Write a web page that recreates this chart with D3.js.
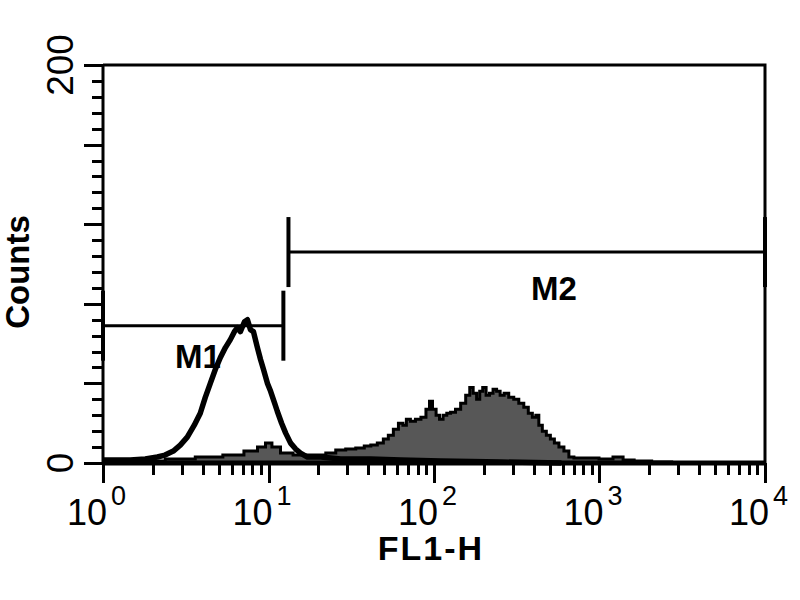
<!DOCTYPE html>
<html>
<head>
<meta charset="utf-8">
<script src="https://cdn.jsdelivr.net/npm/d3@7"></script>
<style>
  body { margin: 0; background: #fff; }
  svg { display: block; }
  text { font-family: "Liberation Sans", Arial, sans-serif; fill: #000; }
</style>
</head>
<body>
<div id="chart"></div>
<script>
// control (open histogram), FL1-H channel value vs counts
const controlFl1 = [1.00, 1.46, 1.80, 2.13, 2.37, 2.66, 2.93, 3.23, 3.56, 3.87, 4.15, 4.45, 4.77, 5.12, 5.49, 5.88, 6.22, 6.49, 6.76, 7.16, 7.46, 7.78, 8.11, 8.57, 8.95, 9.33, 9.86, 10.3, 10.9, 11.3, 12.0, 12.7, 13.6, 14.6, 15.6, 17.2, 20.7, 27.3, 41.5, 63.1, 110, 255, 589];
const controlCounts = [1.5, 1.5, 2, 3, 4, 6, 9, 13, 19, 25, 33, 40, 47, 53, 58, 62, 66, 68, 66, 71, 72, 67, 66, 58, 52, 47, 40, 36, 30, 26, 20, 15, 10, 7, 5, 3, 3, 2, 2, 1.5, 1, 0.5, 0];

// stained sample (filled histogram)
const sampleFl1 = [1.00, 1.93, 2.93, 4.45, 6.31, 8.00, 9.20, 10.0, 11.0, 12.7, 15.6, 20.7, 23.8, 27.3, 31.4, 36.1, 39.8, 43.3, 47.7, 51.2, 54.8, 58.9, 63.1, 66.7, 69.5, 74.6, 80.0, 86.9, 92.0, 95.9, 100, 106, 110, 117, 122, 130, 140, 150, 161, 168, 177, 185, 193, 201, 212, 221, 234, 244, 258, 273, 293, 314, 337, 361, 382, 404, 421, 439, 464, 491, 519, 549, 589, 631, 676, 726, 895, 1102, 1321, 1459, 1798, 2375, 3139];
const sampleCounts = [1, 1, 2, 3, 4, 6, 8, 10, 8, 5, 4, 4, 5, 6.5, 7, 7.5, 8.5, 9, 10, 12, 14, 17, 20, 19, 22, 21, 22, 23, 27, 31, 27, 24, 22, 24, 25, 25.5, 27, 30, 34, 38, 35, 32, 36, 38, 34, 35, 37, 36, 34, 35, 33, 32, 30, 28, 25, 23, 24, 19, 16, 14, 12, 10, 8, 6, 3, 2.5, 2.5, 2, 3, 1.5, 1, 0.5, 0];

// markers
const markerNames = ['M1', 'M2'];
const markerStart = [1, 13.2];
const markerEnd = [12.3, 10000];
const markerLevel = [69, 106];

const xExponents = [0, 1, 2, 3, 4];
const yTickLabels = [0, 200];
const yMajorTicks = [0, 40, 80, 120, 160, 200];

const W = 800, H = 600;
const plotLeft = 103, plotRight = 765, plotTop = 65, plotBottom = 463;

const svg = d3.select('#chart').append('svg').attr('width', W).attr('height', H);
svg.append('rect').attr('width', W).attr('height', H).attr('fill', '#fff');

const x = d3.scaleLog().domain([1, 1e4]).range([plotLeft, plotRight]);
const y = d3.scaleLinear().domain([0, 200]).range([plotBottom, plotTop]);

// filled sample histogram
const sample = sampleFl1.map((v, i) => ({ x: v, y: sampleCounts[i] }));
const area = d3.area().x(d => x(d.x)).y0(y(0)).y1(d => y(d.y)).curve(d3.curveStep);
const outline = d3.line().x(d => x(d.x)).y(d => y(d.y)).curve(d3.curveStep);
svg.append('path').datum(sample).attr('d', area).attr('fill', '#575757');
svg.append('path').datum(sample).attr('d', outline)
  .attr('fill', 'none').attr('stroke', '#000').attr('stroke-width', 3);

// open control histogram
const control = controlFl1.map((v, i) => ({ x: v, y: controlCounts[i] }));
svg.append('path').datum(control)
  .attr('d', d3.line().x(d => x(d.x)).y(d => y(d.y)))
  .attr('fill', 'none').attr('stroke', '#000').attr('stroke-width', 5.5)
  .attr('stroke-linejoin', 'round');

// frame
svg.append('path')
  .attr('d', `M${plotLeft},${plotTop}H${plotRight}V${plotBottom}`)
  .attr('fill', 'none').attr('stroke', '#000').attr('stroke-width', 3);
svg.append('line').attr('x1', plotLeft).attr('x2', plotLeft).attr('y1', plotTop - 1).attr('y2', plotBottom + 2)
  .attr('stroke', '#000').attr('stroke-width', 3);
svg.append('line').attr('x1', plotLeft).attr('x2', plotRight + 1).attr('y1', plotBottom).attr('y2', plotBottom)
  .attr('stroke', '#000').attr('stroke-width', 5);

// x axis ticks
const xTicks = x.ticks();
svg.append('g').attr('shape-rendering', 'crispEdges')
  .selectAll('line').data(xTicks).enter().append('line')
  .attr('x1', d => Math.round(x(d))).attr('x2', d => Math.round(x(d)))
  .attr('y1', plotBottom)
  .attr('y2', d => Number.isInteger(Math.log10(d)) ? plotBottom + 20 : plotBottom + 12)
  .attr('stroke', '#000').attr('stroke-width', 3);

const xLab = svg.append('g').selectAll('g').data(xExponents).enter().append('g')
  .attr('transform', e => `translate(${x(Math.pow(10, e))},0)`);
xLab.append('text').attr('x', 4).attr('y', 525).attr('text-anchor', 'end')
  .style('font-size', '36px').text('10');
xLab.append('text').attr('x', 8).attr('y', 505)
  .style('font-size', '27px').text(e => e);

// y axis ticks
const yTicks = d3.range(0, 201, 8);
svg.append('g').attr('shape-rendering', 'crispEdges')
  .selectAll('line').data(yTicks).enter().append('line')
  .attr('x1', plotLeft).attr('y1', d => Math.round(y(d))).attr('y2', d => Math.round(y(d)))
  .attr('x2', d => yMajorTicks.includes(d) ? plotLeft - 19 : plotLeft - 11)
  .attr('stroke', '#000').attr('stroke-width', 3);

svg.append('g').selectAll('text').data(yTickLabels).enter().append('text')
  .attr('transform', d => `translate(73,${y(d)}) rotate(-90)`)
  .attr('text-anchor', 'middle')
  .style('font-size', '37px').text(d => d);

// axis titles
svg.append('text').attr('transform', 'translate(29,272) rotate(-90)')
  .attr('text-anchor', 'middle').style('font-size', '33px').style('font-weight', 'bold')
  .text('Counts');
svg.append('text').attr('x', 431).attr('y', 560)
  .attr('text-anchor', 'middle').style('font-size', '34px').style('font-weight', 'bold')
  .style('letter-spacing', '2px').text('FL1-H');

// markers
const markerLabelPos = [[175, 368], [531, 300]];
markerNames.forEach((name, i) => {
  const g = svg.append('g');
  const x0 = x(markerStart[i]), x1 = x(markerEnd[i]), yy = y(markerLevel[i]);
  g.append('line').attr('x1', x0).attr('x2', x1).attr('y1', yy).attr('y2', yy)
    .attr('stroke', '#000').attr('stroke-width', 3);
  [x0, x1].forEach(xx => {
    g.append('line').attr('x1', xx).attr('x2', xx).attr('y1', yy - 35).attr('y2', yy + 35)
      .attr('stroke', '#000').attr('stroke-width', 4);
  });
  g.append('text').attr('x', markerLabelPos[i][0]).attr('y', markerLabelPos[i][1])
    .style('font-size', '33px').style('font-weight', 'bold').text(name);
});
</script>
</body>
</html>
